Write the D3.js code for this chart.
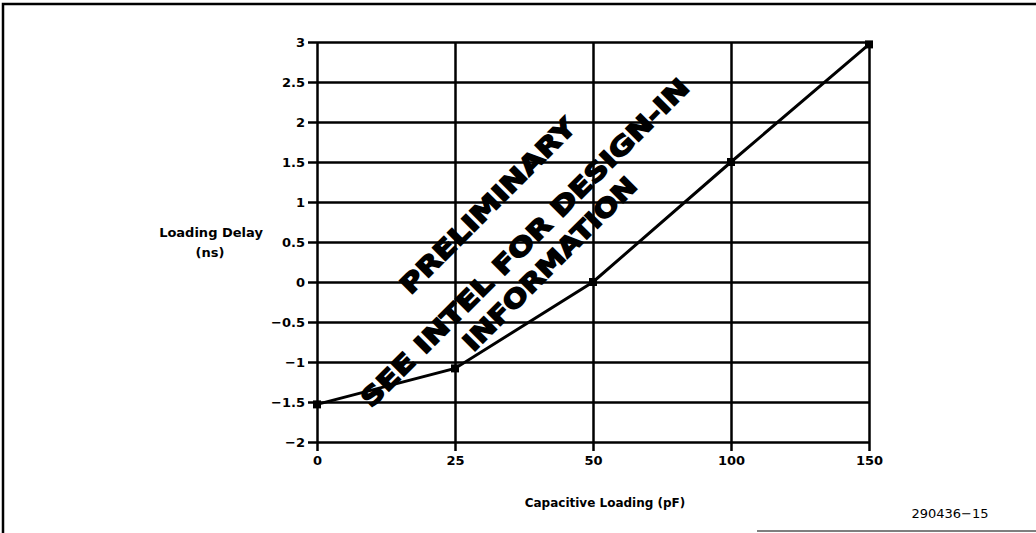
<!DOCTYPE html>
<html>
<head>
<meta charset="utf-8">
<script src="https://cdn.jsdelivr.net/npm/d3@7"></script>
<style>
  body { margin: 0; background: #fff; }
  svg { display: block; }
  text { font-family: "DejaVu Sans", sans-serif; fill: #000; }
</style>
</head>
<body>
<div id="chart"></div>
<script>
// data
const loadings = ["0", "25", "50", "100", "150"];
const delays = [-1.53, -1.08, 0, 1.5, 2.97];
const yTicks = [-2, -1.5, -1, -0.5, 0, 0.5, 1, 1.5, 2, 2.5, 3];
const watermark = ["PRELIMINARY", "SEE INTEL FOR DESIGN-IN", "INFORMATION"];

const width = 1036, height = 533;
const plotLeft = 317, plotRight = 869, plotTop = 42, plotBottom = 442;

const svg = d3.select("#chart").append("svg")
    .attr("width", width)
    .attr("height", height);

// page frame
svg.append("path")
    .attr("d", `M3,${height} V4 H${width}`)
    .attr("fill", "none")
    .attr("stroke", "#000")
    .attr("stroke-width", 2.5);
svg.append("line")
    .attr("x1", 757).attr("x2", width)
    .attr("y1", 531).attr("y2", 531)
    .attr("stroke", "#555")
    .attr("stroke-width", 1.5);

const x = d3.scalePoint()
    .domain(loadings)
    .range([plotLeft, plotRight]);

const y = d3.scaleLinear()
    .domain([-2, 3])
    .range([plotBottom, plotTop]);

// grid lines (extend a bit past the axes like the reference)
const yGrid = svg.append("g")
    .attr("transform", `translate(${plotLeft}, 0)`)
    .call(d3.axisLeft(y).tickValues(yTicks).tickSize(-(plotRight - plotLeft)).tickSizeOuter(0).tickFormat(""));
yGrid.select(".domain").remove();
yGrid.selectAll(".tick line")
    .attr("x1", -9)
    .attr("stroke", "#000")
    .attr("stroke-width", 2.5);

const xGrid = svg.append("g")
    .attr("transform", `translate(0, ${plotBottom})`)
    .call(d3.axisBottom(x).tickSize(-(plotBottom - plotTop)).tickSizeOuter(0).tickFormat(""));
xGrid.select(".domain").remove();
xGrid.selectAll(".tick line")
    .attr("y1", 9)
    .attr("stroke", "#000")
    .attr("stroke-width", 2.5);

// tick labels
const yAxis = svg.append("g")
    .attr("transform", `translate(${plotLeft - 12}, 0)`)
    .call(d3.axisLeft(y).tickValues(yTicks).tickSize(0).tickFormat(d => d < 0 ? "\u2212" + Math.abs(d) : d));
yAxis.select(".domain").remove();
yAxis.selectAll("text")
    .attr("x", 0)
    .style("font-family", "'DejaVu Sans', sans-serif")
    .style("font-size", "13px")
    .style("font-weight", "bold");

const xAxis = svg.append("g")
    .attr("transform", `translate(0, ${plotBottom + 14})`)
    .call(d3.axisBottom(x).tickSize(0));
xAxis.select(".domain").remove();
xAxis.selectAll("text")
    .attr("y", 0)
    .attr("dy", "0.71em")
    .style("font-family", "'DejaVu Sans', sans-serif")
    .style("font-size", "13px")
    .style("font-weight", "bold");

// axis titles
svg.append("text")
    .attr("x", 605)
    .attr("y", 507)
    .style("text-anchor", "middle")
    .style("font-size", "12px")
    .style("font-weight", "bold")
    .text("Capacitive Loading (pF)");

svg.append("text")
    .attr("x", 211)
    .attr("y", 237)
    .style("text-anchor", "middle")
    .style("font-size", "13px")
    .style("font-weight", "bold")
    .text("Loading Delay");

svg.append("text")
    .attr("x", 210)
    .attr("y", 257)
    .style("text-anchor", "middle")
    .style("font-size", "13px")
    .style("font-weight", "bold")
    .text("(ns)");

svg.append("text")
    .attr("x", 950)
    .attr("y", 518)
    .style("text-anchor", "middle")
    .style("font-size", "13px")
    .text("290436\u221215");

// watermark
const wmPos = [[494, 212, 236], [531, 249, 452], [556, 270, 234]];
svg.append("g")
    .selectAll("text")
    .data(watermark)
    .enter()
    .append("text")
    .attr("transform", (d, i) => `translate(${wmPos[i][0]}, ${wmPos[i][1]}) rotate(-45)`)
    .attr("textLength", (d, i) => wmPos[i][2])
    .attr("lengthAdjust", "spacingAndGlyphs")
    .style("text-anchor", "middle")
    .style("font-size", "25px")
    .style("font-weight", "bold")
    .style("stroke", "#000")
    .style("stroke-width", 1.5)
    .text(d => d);

// data line
const line = d3.line()
    .x((d, i) => x(loadings[i]))
    .y(d => y(d));

svg.append("path")
    .datum(delays)
    .attr("d", line)
    .attr("fill", "none")
    .attr("stroke", "#000")
    .attr("stroke-width", 3);

svg.selectAll("rect.pt")
    .data(delays)
    .enter()
    .append("rect")
    .attr("class", "pt")
    .attr("x", (d, i) => x(loadings[i]) - 4)
    .attr("y", d => y(d) - 4)
    .attr("width", 8)
    .attr("height", 8)
    .attr("fill", "#000");
</script>
</body>
</html>
